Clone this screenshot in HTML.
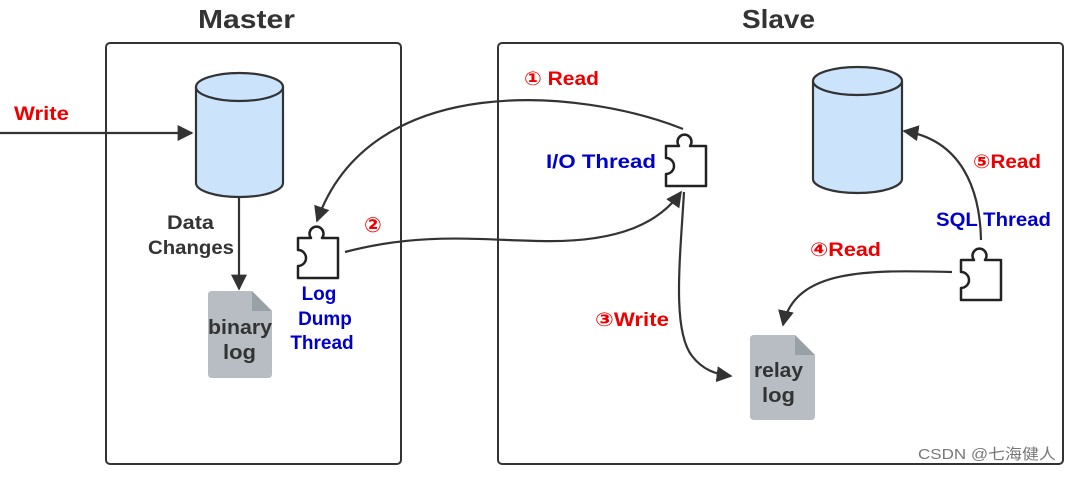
<!DOCTYPE html>
<html><head><meta charset="utf-8"><style>
body{margin:0;background:#fff;width:1072px;height:472px;overflow:hidden}
text{font-family:"Liberation Sans","DejaVu Sans",sans-serif;font-weight:bold}
</style></head><body>
<svg width="1072" height="472" viewBox="0 0 1072 472" xmlns="http://www.w3.org/2000/svg">
<defs>
<marker id="b" viewBox="0 0 10 10" refX="9" refY="5" markerWidth="16" markerHeight="16" orient="auto" markerUnits="userSpaceOnUse"><path d="M0,0 L10,5 L0,10 Z" fill="#333"/></marker>
<g id="pz"><path d="M0,0 H13 A7,7 0 1 1 24,0 H40 V40 H0 V28 A8,8 0 1 0 0,12 Z" fill="#fff" stroke="#222" stroke-width="2.5" stroke-linejoin="round"/></g>
</defs>
<text x="198" y="28" font-size="26" fill="#333" textLength="97" lengthAdjust="spacingAndGlyphs">Master</text>
<text x="742" y="28" font-size="26" fill="#333" textLength="73" lengthAdjust="spacingAndGlyphs">Slave</text>
<rect x="106" y="43" width="295" height="421" rx="4" fill="none" stroke="#333" stroke-width="2"/>
<rect x="498" y="43" width="565" height="421" rx="4" fill="none" stroke="#333" stroke-width="2"/>
<path d="M196,87 V183 A43.5,14 0 0 0 283,183 V87" fill="#cce4fb" stroke="#333" stroke-width="2.2"/>
<ellipse cx="239.5" cy="87" rx="43.5" ry="14" fill="#cce4fb" stroke="#333" stroke-width="2.2"/>
<path d="M813,81 V179 A44.5,14 0 0 0 902,179 V81" fill="#cce4fb" stroke="#333" stroke-width="2.2"/>
<ellipse cx="857.5" cy="81" rx="44.5" ry="14" fill="#cce4fb" stroke="#333" stroke-width="2.2"/>
<path d="M212,291 H252 L272,311 V374 Q272,378 268,378 H212 Q208,378 208,374 V295 Q208,291 212,291 Z" fill="#b7bdc2"/>
<path d="M252,291 V311 H272 Z" fill="#98a2a6"/>
<path d="M754,335 H795 L815,355 V416 Q815,420 811,420 H754 Q750,420 750,416 V339 Q750,335 754,335 Z" fill="#b7bdc2"/>
<path d="M795,335 V355 H815 Z" fill="#98a2a6"/>
<g font-size="20" fill="#333">
<text x="208" y="334" textLength="64" lengthAdjust="spacingAndGlyphs">binary</text>
<text x="223" y="359" textLength="33" lengthAdjust="spacingAndGlyphs">log</text>
<text x="754" y="377" textLength="49" lengthAdjust="spacingAndGlyphs">relay</text>
<text x="762" y="402" textLength="33" lengthAdjust="spacingAndGlyphs">log</text>
</g>
<use href="#pz" transform="translate(298,238)"/>
<use href="#pz" transform="translate(666,146)"/>
<use href="#pz" transform="translate(961,260)"/>
<g fill="none" stroke="#333" stroke-width="2.2">
<path d="M0,133 H192" marker-end="url(#b)"/>
<path d="M239,197 V289" marker-end="url(#b)"/>
<path d="M683,129 C580,88 370,70 317,221" marker-end="url(#b)"/>
<path d="M345,252 C420,232 480,240 540,241 C620,243 660,222 681,192" marker-end="url(#b)"/>
<path d="M684,192 C680,260 672,330 692,356 C703,370 715,374 731,376" marker-end="url(#b)"/>
<path d="M952,272 C870,270 795,268 783,325" marker-end="url(#b)"/>
<path d="M981,240 C980,190 962,140 904,131" marker-end="url(#b)"/>
</g>
<g font-size="19">
<text x="14" y="120" fill="#e00" textLength="55" lengthAdjust="spacingAndGlyphs">Write</text>
<text x="524" y="85" fill="#e00" textLength="75" lengthAdjust="spacingAndGlyphs">① Read</text>
<text x="364" y="232" fill="#e00" font-size="21">②</text>
<text x="595" y="326" fill="#e00" textLength="74" lengthAdjust="spacingAndGlyphs">③Write</text>
<text x="810" y="256" fill="#e00" textLength="71" lengthAdjust="spacingAndGlyphs">④Read</text>
<text x="973" y="168" fill="#e00" textLength="68" lengthAdjust="spacingAndGlyphs">⑤Read</text>
<text x="546" y="168" fill="#00c" textLength="110" lengthAdjust="spacingAndGlyphs">I/O Thread</text>
<text x="936" y="226" fill="#00c" textLength="115" lengthAdjust="spacingAndGlyphs">SQL Thread</text>
<text x="319" y="300" fill="#00c" text-anchor="middle">Log</text>
<text x="325" y="325" fill="#00c" text-anchor="middle">Dump</text>
<text x="322" y="349" fill="#00c" text-anchor="middle">Thread</text>
<text x="167" y="229" fill="#333" textLength="47" lengthAdjust="spacingAndGlyphs">Data</text>
<text x="148" y="254" fill="#333" textLength="86" lengthAdjust="spacingAndGlyphs">Changes</text>
</g>
<text x="918" y="459" font-size="15" fill="#777" textLength="138" lengthAdjust="spacingAndGlyphs" style="font-weight:normal;font-family:'Liberation Sans','Noto Sans CJK SC',sans-serif">CSDN @七海健人</text>
</svg>
</body></html>
